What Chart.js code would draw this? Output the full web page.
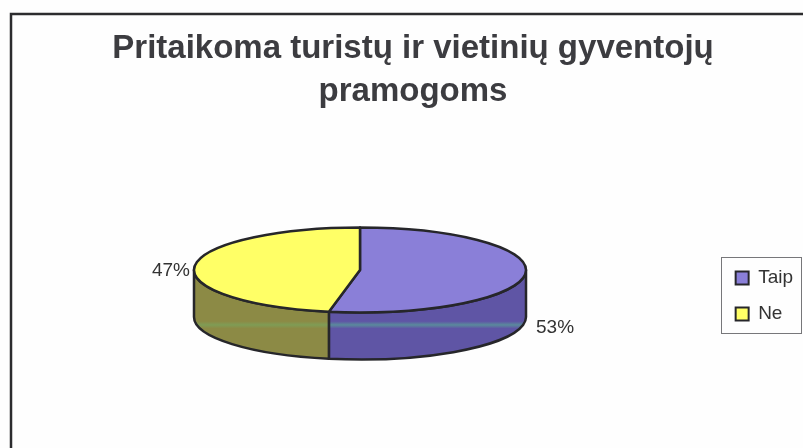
<!DOCTYPE html>
<html>
<head>
<meta charset="utf-8">
<style>
  html, body { margin: 0; padding: 0; background: #fefefe; }
  #wrap { width: 803px; height: 448px; position: relative; }
</style>
</head>
<body>
<div id="wrap"><canvas id="graph" width="803" height="448"></canvas></div>
<script src="https://cdn.jsdelivr.net/npm/chart.js@4"></script>
<script>
var titleLines = ["Pritaikoma turistų ir vietinių gyventojų", "pramogoms"];
var categories = ["Taip", "Ne"];
var values = [53, 47];
var topColors = ["#8a7fd8", "#ffff66"];
var sideColors = ["#5f55a5", "#8c8a45"];
var bandColors = ["#5a8a9c", "#7f9c55"];

var PIE_X = 360, PIE_Y = 270, SQUASH = 0.256, DEPTH = 47;
var OUTLINE = "#26262a";

var context = document.querySelector('#graph').getContext('2d');

// pie is flattened by hand, using the angles chart.js worked out for each arc
function slicePath(ctx, arc) {
  var ry = arc.outerRadius * SQUASH;
  ctx.beginPath();
  ctx.moveTo(PIE_X, PIE_Y);
  ctx.ellipse(PIE_X, PIE_Y, arc.outerRadius, ry, 0, arc.startAngle, arc.endAngle);
  ctx.closePath();
}

function sidePath(ctx, arc, from, to) {
  var ry = arc.outerRadius * SQUASH;
  ctx.beginPath();
  ctx.ellipse(PIE_X, PIE_Y, arc.outerRadius, ry, 0, from, to);
  ctx.ellipse(PIE_X, PIE_Y + DEPTH, arc.outerRadius, ry, 0, to, from, true);
  ctx.closePath();
}

var flatPie = {
  id: 'flatPie',
  beforeDraw: function(chart) {
    var ctx = chart.ctx;
    ctx.save();
    ctx.fillStyle = "#fefefe";
    ctx.fillRect(0, 0, chart.width, chart.height);
    // frame is only open on right and bottom in the scan
    ctx.strokeStyle = "#2c2c2e";
    ctx.lineWidth = 2.5;
    ctx.beginPath();
    ctx.moveTo(11, chart.height);
    ctx.lineTo(11, 14);
    ctx.lineTo(chart.width, 14);
    ctx.stroke();
    ctx.restore();
  },
  beforeDatasetsDraw: function(chart) {
    var ctx = chart.ctx;
    var arcs = chart.getDatasetMeta(0).data;
    ctx.save();
    ctx.lineWidth = 2.5;
    ctx.lineJoin = "round";
    ctx.strokeStyle = OUTLINE;
    arcs.forEach(function(arc, i) {
      var from = Math.max(arc.startAngle, 0);
      var to = Math.min(arc.endAngle, Math.PI);
      if (to <= from) return;
      var grad = ctx.createLinearGradient(0, PIE_Y, 0, PIE_Y + 90);
      grad.addColorStop(0, sideColors[i]);
      grad.addColorStop(0.57, sideColors[i]);
      grad.addColorStop(0.61, bandColors[i]);
      grad.addColorStop(0.65, sideColors[i]);
      grad.addColorStop(1, sideColors[i]);
      sidePath(ctx, arc, from, to);
      ctx.fillStyle = grad;
      ctx.fill();
      ctx.stroke();
    });
    arcs.forEach(function(arc, i) {
      slicePath(ctx, arc);
      ctx.fillStyle = topColors[i];
      ctx.fill();
      ctx.stroke();
    });
    ctx.restore();
    return false;
  },
  afterDraw: function(chart) {
    var ctx = chart.ctx;
    var total = values.reduce(function(a, b) { return a + b; }, 0);
    ctx.save();
    ctx.font = "19px 'Liberation Sans'";
    ctx.fillStyle = "#333333";
    ctx.textBaseline = "middle";
    ctx.textAlign = "left";
    ctx.fillText(Math.round(values[0] / total * 100) + "%", 536, 328);
    ctx.textAlign = "right";
    ctx.fillText(Math.round(values[1] / total * 100) + "%", 190, 271);

    // legend frame, chart.js legend has none
    ctx.strokeStyle = "#77777a";
    ctx.lineWidth = 1;
    ctx.strokeRect(721.5, 257.5, 80, 76);
    ctx.restore();
  }
};

var chart = new Chart(context, {
  type: 'pie',
  data: {
    labels: categories,
    datasets: [{
      data: values,
      backgroundColor: topColors,
      borderColor: OUTLINE,
      borderWidth: 2,
      radius: 166
    }]
  },
  options: {
    responsive: false,
    animation: false,
    layout: { padding: { left: 23 } },
    plugins: {
      tooltip: { enabled: false },
      title: {
        display: true,
        text: titleLines,
        color: "#3c3c40",
        font: { family: "'Liberation Sans'", size: 33, weight: 'bold', lineHeight: 1.29 },
        padding: { top: 28, bottom: 31 }
      },
      legend: {
        position: 'right',
        fullSize: false,
        maxWidth: 98,
        labels: {
          boxWidth: 13,
          boxHeight: 13,
          padding: 17,
          color: "#333333",
          font: { family: "'Liberation Sans'", size: 19 }
        }
      }
    }
  },
  plugins: [flatPie]
});
</script>
</body>
</html>
